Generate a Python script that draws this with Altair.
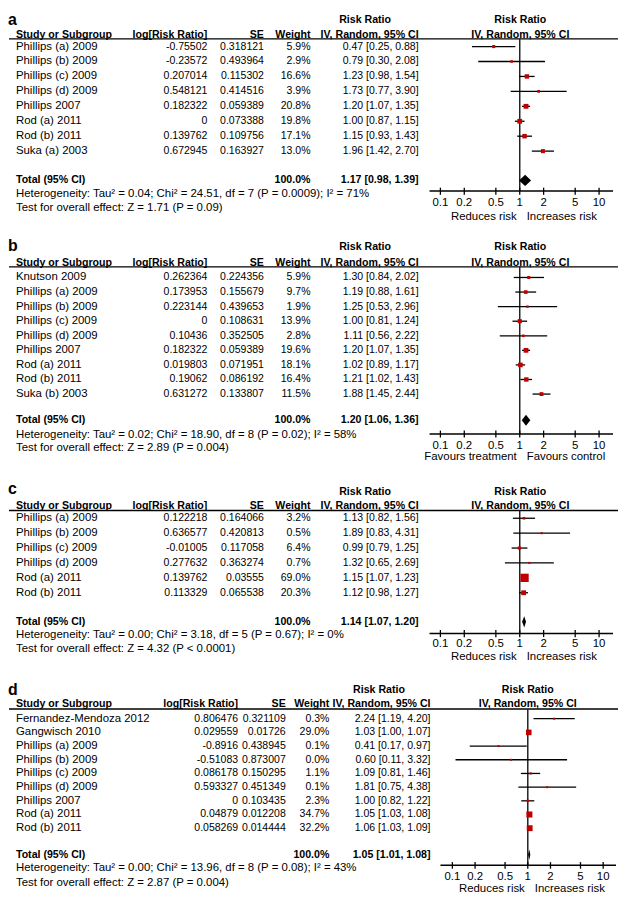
import altair as alt
import pandas as pd

FONT = "Liberation Sans"
RED = "#BF0000"

# ---------------- data ----------------
# panel a
a_names = ["Phillips (a) 2009", "Phillips (b) 2009", "Phillips (c) 2009", "Phillips (d) 2009",
           "Phillips 2007", "Rod (a) 2011", "Rod (b) 2011", "Suka (a) 2003"]
a_logrr = ["-0.75502", "-0.23572", "0.207014", "0.548121", "0.182322", "0", "0.139762", "0.672945"]
a_se = ["0.318121", "0.493964", "0.115302", "0.414516", "0.059389", "0.073388", "0.109756", "0.163927"]
a_weight = [5.9, 2.9, 16.6, 3.9, 20.8, 19.8, 17.1, 13.0]
a_rr = [0.47, 0.79, 1.23, 1.73, 1.20, 1.00, 1.15, 1.96]
a_lo = [0.25, 0.30, 0.98, 0.77, 1.07, 0.87, 0.93, 1.42]
a_hi = [0.88, 2.08, 1.54, 3.90, 1.35, 1.15, 1.43, 2.70]
a_total = [1.17, 0.98, 1.39]
a_het = "Heterogeneity: Tau² = 0.04; Chi² = 24.51, df = 7 (P = 0.0009); I² = 71%"
a_test = "Test for overall effect: Z = 1.71 (P = 0.09)"
a_fav = ["Reduces risk", "Increases risk"]

# panel b
b_names = ["Knutson 2009", "Phillips (a) 2009", "Phillips (b) 2009", "Phillips (c) 2009",
           "Phillips (d) 2009", "Phillips 2007", "Rod (a) 2011", "Rod (b) 2011", "Suka (b) 2003"]
b_logrr = ["0.262364", "0.173953", "0.223144", "0", "0.10436", "0.182322", "0.019803", "0.19062", "0.631272"]
b_se = ["0.224356", "0.155679", "0.439653", "0.108631", "0.352505", "0.059389", "0.071951", "0.086192", "0.133807"]
b_weight = [5.9, 9.7, 1.9, 13.9, 2.8, 19.6, 18.1, 16.4, 11.5]
b_rr = [1.30, 1.19, 1.25, 1.00, 1.11, 1.20, 1.02, 1.21, 1.88]
b_lo = [0.84, 0.88, 0.53, 0.81, 0.56, 1.07, 0.89, 1.02, 1.45]
b_hi = [2.02, 1.61, 2.96, 1.24, 2.22, 1.35, 1.17, 1.43, 2.44]
b_total = [1.20, 1.06, 1.36]
b_het = "Heterogeneity: Tau² = 0.02; Chi² = 18.90, df = 8 (P = 0.02); I² = 58%"
b_test = "Test for overall effect: Z = 2.89 (P = 0.004)"
b_fav = ["Favours treatment", "Favours control"]

# panel c
c_names = ["Phillips (a) 2009", "Phillips (b) 2009", "Phillips (c) 2009", "Phillips (d) 2009",
           "Rod (a) 2011", "Rod (b) 2011"]
c_logrr = ["0.122218", "0.636577", "-0.01005", "0.277632", "0.139762", "0.113329"]
c_se = ["0.164066", "0.420813", "0.117058", "0.363274", "0.03555", "0.065538"]
c_weight = [3.2, 0.5, 6.4, 0.7, 69.0, 20.3]
c_rr = [1.13, 1.89, 0.99, 1.32, 1.15, 1.12]
c_lo = [0.82, 0.83, 0.79, 0.65, 1.07, 0.98]
c_hi = [1.56, 4.31, 1.25, 2.69, 1.23, 1.27]
c_total = [1.14, 1.07, 1.20]
c_het = "Heterogeneity: Tau² = 0.00; Chi² = 3.18, df = 5 (P = 0.67); I² = 0%"
c_test = "Test for overall effect: Z = 4.32 (P < 0.0001)"
c_fav = ["Reduces risk", "Increases risk"]

# panel d
d_names = ["Fernandez-Mendoza 2012", "Gangwisch 2010", "Phillips (a) 2009", "Phillips (b) 2009",
           "Phillips (c) 2009", "Phillips (d) 2009", "Phillips 2007", "Rod (a) 2011", "Rod (b) 2011"]
d_logrr = ["0.806476", "0.029559", "-0.8916", "-0.51083", "0.086178", "0.593327", "0", "0.04879", "0.058269"]
d_se = ["0.321109", "0.01726", "0.438945", "0.873007", "0.150295", "0.451349", "0.103435", "0.012208", "0.014444"]
d_weight = [0.3, 29.0, 0.1, 0.0, 1.1, 0.1, 2.3, 34.7, 32.2]
d_rr = [2.24, 1.03, 0.41, 0.60, 1.09, 1.81, 1.00, 1.05, 1.06]
d_lo = [1.19, 1.00, 0.17, 0.11, 0.81, 0.75, 0.82, 1.03, 1.03]
d_hi = [4.20, 1.07, 0.97, 3.32, 1.46, 4.38, 1.22, 1.08, 1.09]
d_total = [1.05, 1.01, 1.08]
d_het = "Heterogeneity: Tau² = 0.00; Chi² = 13.96, df = 8 (P = 0.08); I² = 43%"
d_test = "Test for overall effect: Z = 2.87 (P = 0.004)"
d_fav = ["Reduces risk", "Increases risk"]

tick_values = [0.1, 0.2, 0.5, 1, 2, 5, 10]
tick_labels = ["0.1", "0.2", "0.5", "1", "2", "5", "10"]

# ---------------- layout ----------------
W = 611


def X(px):
    return px - 7


LAY_ABC = dict(name=11, log=204, se=261, wt=308, ci=417, rrh=363, fc=519.5,
               frange=(428, 613), fdomain=(0.073, 15))
LAY_D = dict(name=11, log=235, se=283, wt=327, ci=429, rrh=377, fc=527,
             frange=(439, 616), fdomain=(0.0695, 14.8))

LA = dict(T=0, B=225, H=220, y0=34, u=15.4, letter=7, h1=7, h2=22, ul=26, total=172,
          het=186, test=200, axis=183, tick=195, fav=210, smax=70, **LAY_ABC)
LB = dict(T=225, B=470, H=240, y0=272, u=15.0, letter=240, h1=241, h2=257, ul=261, total=419,
          het=434, test=448, axis=433, tick=445, fav=457, smax=75, **LAY_ABC)
LC = dict(T=470, B=675, H=200, y0=520, u=15.4, letter=490, h1=493, h2=507, ul=512, total=627,
          het=641, test=655, axis=639, tick=650, fav=663, smax=190, **LAY_ABC)
LD = dict(T=675, B=908, H=228, y0=727, u=14.1, letter=697, h1=697, h2=712, ul=717, total=867,
          het=881, test=896, axis=878, tick=890, fav=902, smax=60, **LAY_D)

NORMAL = 11.5
NUM = 10.6
BOLD = 10.7


def panel(letter, names, logrr, se, weight, rr, lo, hi, total, het, test, fav, L):
    def R(py):
        return (py - L["y0"]) / L["u"]

    ysc = alt.Scale(domain=[R(L["T"]), R(L["B"])], reverse=True, nice=False, zero=False)
    f0, f1 = L["frange"]
    xsc = alt.Scale(type="log", domain=list(L["fdomain"]), range=[X(f0), X(f1)], nice=False)

    def Y(field="r"):
        return alt.Y(f"{field}:Q", scale=ysc, axis=None)

    # ---- table text ----
    rows = []
    n = len(names)
    rows.append(dict(col="letter", r=R(L["letter"]), text=letter))
    rows.append(dict(col="hname", r=R(L["h2"]), text="Study or Subgroup"))
    rows.append(dict(col="hlog", r=R(L["h2"]), text="log[Risk Ratio]"))
    rows.append(dict(col="hse", r=R(L["h2"]), text="SE"))
    rows.append(dict(col="hwt", r=R(L["h2"]), text="Weight"))
    rows.append(dict(col="hrr", r=R(L["h1"]), text="Risk Ratio"))
    rows.append(dict(col="hci", r=R(L["h2"]), text="IV, Random, 95% CI"))
    rows.append(dict(col="hf", r=R(L["h1"]), text="Risk Ratio"))
    rows.append(dict(col="hf", r=R(L["h2"]), text="IV, Random, 95% CI"))
    for i in range(n):
        rows.append(dict(col="name", r=i, text=names[i]))
        rows.append(dict(col="log", r=i, text=logrr[i]))
        rows.append(dict(col="se", r=i, text=se[i]))
        rows.append(dict(col="wt", r=i, text=f"{weight[i]:.1f}%"))
        rows.append(dict(col="ci", r=i, text=f"{rr[i]:.2f} [{lo[i]:.2f}, {hi[i]:.2f}]"))
    rows.append(dict(col="tname", r=R(L["total"]), text="Total (95% CI)"))
    rows.append(dict(col="twt", r=R(L["total"]), text="100.0%"))
    rows.append(dict(col="tci", r=R(L["total"]),
                     text=f"{total[0]:.2f} [{total[1]:.2f}, {total[2]:.2f}]"))
    rows.append(dict(col="name", r=R(L["het"]), text=het))
    rows.append(dict(col="name", r=R(L["test"]), text=test))
    tbl = pd.DataFrame(rows)

    specs = [
        ("letter", 3, "left", "bold", 16),
        ("hname", L["name"], "left", "bold", BOLD),
        ("hlog", L["log"], "right", "bold", BOLD),
        ("hse", L["se"], "right", "bold", BOLD),
        ("hwt", L["wt"], "right", "bold", BOLD),
        ("hrr", L["rrh"], "center", "bold", BOLD),
        ("hci", L["ci"], "right", "bold", BOLD),
        ("hf", L["fc"], "center", "bold", BOLD),
        ("name", L["name"], "left", "normal", NORMAL),
        ("log", L["log"], "right", "normal", NUM),
        ("se", L["se"], "right", "normal", NUM),
        ("wt", L["wt"], "right", "normal", NUM),
        ("ci", L["ci"], "right", "normal", NUM),
        ("tname", L["name"], "left", "bold", BOLD),
        ("twt", L["wt"], "right", "bold", BOLD),
        ("tci", L["ci"], "right", "bold", BOLD),
    ]
    layers = []
    base = alt.Chart(tbl)
    for col, px, align, weight_, fs in specs:
        layers.append(
            base.transform_filter(alt.datum.col == col)
            .mark_text(align=align, baseline="middle", font=FONT, fontSize=fs,
                       fontWeight=weight_, color="black")
            .encode(x=alt.value(X(px)), y=Y(), text="text:N")
        )

    # ---- header underline ----
    layers.append(
        alt.Chart(pd.DataFrame({"r": [R(L["ul"])]}))
        .mark_rule(color="black", strokeWidth=1.3)
        .encode(x=alt.value(X(4)), x2=alt.value(W), y=Y())
    )

    # ---- line of no effect ----
    layers.append(
        alt.Chart(pd.DataFrame({"x": [1.0], "r": [R(L["ul"])], "r2": [R(L["axis"])]}))
        .mark_rule(color="#222222", strokeWidth=1.5)
        .encode(x=alt.X("x:Q", scale=xsc, axis=None), y=Y(), y2="r2:Q")
    )

    # ---- studies ----
    st = pd.DataFrame({"r": list(range(n)), "est": rr, "lo": lo, "hi": hi, "weight": weight})
    layers.append(
        alt.Chart(st).mark_rule(color="black", strokeWidth=1.3)
        .encode(x=alt.X("lo:Q", scale=xsc, axis=None), x2="hi:Q", y=Y())
    )
    maxw = max(weight)
    layers.append(
        alt.Chart(st).mark_square(filled=True, color=RED, opacity=1)
        .encode(x=alt.X("est:Q", scale=xsc, axis=None), y=Y(),
                size=alt.Size("weight:Q", scale=alt.Scale(domain=[0, maxw], range=[4, L["smax"]]),
                              legend=None))
    )

    # ---- pooled diamond ----
    rt = R(L["total"])
    h = 0.38
    dm = pd.DataFrame({"x": [total[1], total[0], total[2]],
                       "r": [rt, rt - h, rt], "r2": [rt, rt + h, rt]})
    layers.append(
        alt.Chart(dm).mark_area(color="black", orient="vertical", opacity=1)
        .encode(x=alt.X("x:Q", scale=xsc, axis=None), y=Y(), y2="r2:Q")
    )

    # ---- axis ----
    ra = R(L["axis"])
    layers.append(
        alt.Chart(pd.DataFrame({"r": [ra]}))
        .mark_rule(color="black", strokeWidth=1.5)
        .encode(x=alt.value(X(f0)), x2=alt.value(X(f1)), y=Y())
    )
    tk = pd.DataFrame({"t": tick_values, "lab": tick_labels,
                       "r": [ra - 0.23] * len(tick_values), "r2": [ra + 0.25] * len(tick_values),
                       "rl": [R(L["tick"])] * len(tick_values)})
    layers.append(
        alt.Chart(tk).mark_rule(color="black", strokeWidth=1.3)
        .encode(x=alt.X("t:Q", scale=xsc, axis=None), y=Y(), y2="r2:Q")
    )
    layers.append(
        alt.Chart(tk).mark_text(font=FONT, fontSize=11.5, baseline="middle", color="black")
        .encode(x=alt.X("t:Q", scale=xsc, axis=None), y=Y("rl"), text="lab:N")
    )
    fv = pd.DataFrame({"x": [1.0, 1.0], "r": [R(L["fav"])] * 2, "lab": fav})
    layers.append(
        alt.Chart(fv).transform_filter(alt.datum.lab == fav[0])
        .mark_text(font=FONT, fontSize=11.5, baseline="middle", align="right", dx=-3, color="black")
        .encode(x=alt.X("x:Q", scale=xsc, axis=None), y=Y(), text="lab:N")
    )
    layers.append(
        alt.Chart(fv).transform_filter(alt.datum.lab == fav[1])
        .mark_text(font=FONT, fontSize=11.5, baseline="middle", align="left", dx=7, color="black")
        .encode(x=alt.X("x:Q", scale=xsc, axis=None), y=Y(), text="lab:N")
    )

    return alt.layer(*layers).properties(width=W, height=L["H"])


pa = panel("a", a_names, a_logrr, a_se, a_weight, a_rr, a_lo, a_hi, a_total, a_het, a_test, a_fav, LA)
pb = panel("b", b_names, b_logrr, b_se, b_weight, b_rr, b_lo, b_hi, b_total, b_het, b_test, b_fav, LB)
pc = panel("c", c_names, c_logrr, c_se, c_weight, c_rr, c_lo, c_hi, c_total, c_het, c_test, c_fav, LC)
pd_ = panel("d", d_names, d_logrr, d_se, d_weight, d_rr, d_lo, d_hi, d_total, d_het, d_test, d_fav, LD)

chart = (
    alt.vconcat(pa, pb, pc, pd_, spacing=0, bounds="flush")
    .properties(padding=0)
    .configure_view(stroke=None)
)

chart.save("out.html", embed_options={"renderer": "svg", "actions": False})
